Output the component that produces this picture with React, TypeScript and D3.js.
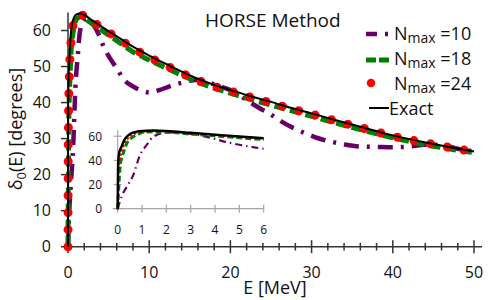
import React, { useEffect, useRef } from "react";
import * as d3 from "d3";

// energies (MeV) and phase shifts (degrees)
const eExact = [0, 0.01, 0.02, 0.05, 0.1, 0.16, 0.25, 0.37, 0.5, 0.78, 1, 1.5, 2, 3, 4, 5, 6, 8, 10, 12, 14, 16, 18, 20, 22, 25, 28, 30, 33, 36, 40, 45, 50];
const dExact = [0, 25, 38, 45, 49, 51.5, 56, 59.6, 61.8, 63.8, 64.4, 64.7, 64.3, 62.8, 61.3, 59.8, 58.4, 55.5, 53, 50.8, 48.6, 46.6, 44.9, 43.5, 42.1, 40.2, 38.2, 37, 35.1, 33.3, 30.9, 28.5, 26.4];

const eN24 = [0, 0.02, 0.05, 0.1, 0.16, 0.25, 0.37, 0.5, 0.78, 1, 1.5, 2, 3, 4, 5, 6, 8, 10, 12, 14, 16, 18, 20, 22, 25, 28, 30, 33, 36, 40, 45, 50];
const dN24 = [0, 20, 33, 42, 47, 53, 57, 59.8, 62.8, 63.8, 64.4, 64.1, 62.5, 61, 59.5, 58.1, 55.1, 52.6, 50.4, 48.2, 46.2, 44.5, 43.2, 41.8, 39.9, 38, 36.8, 34.9, 33.1, 30.7, 28.4, 26.3];

const eN18 = [0, 0.05, 0.1, 0.15, 0.23, 0.35, 0.5, 0.64, 0.92, 1.2, 1.6, 2, 3, 4, 5, 6, 7, 8, 10, 12, 14, 16, 18, 20, 22, 25, 28, 30, 33, 36, 40, 45, 50];
const dN18 = [0, 20, 35, 41, 46, 53, 57.5, 59.6, 62.5, 63.5, 63.8, 63.4, 61.8, 60.3, 58.7, 57.2, 55.6, 54.1, 51.8, 49.7, 47.6, 45.6, 44, 42.6, 41.2, 39.3, 37.4, 36.2, 34.3, 32.5, 30.2, 27.9, 26.1];

const eN10 = [0, 0.16, 0.4, 0.62, 0.92, 1.2, 1.47, 2, 2.5, 3, 3.9, 4.3, 5.2, 6, 6.8, 8, 9.3, 10, 11.3, 12.5, 13.8, 15.8, 17, 19, 20.5, 22, 23.4, 24.9, 26.3, 27.8, 29.2, 30.8, 32.3, 34, 36, 38, 40, 42, 44, 46, 48, 50];
const dN10 = [0, 10, 19, 27, 44.5, 53, 59.7, 63, 63.3, 62, 58.3, 56, 52.2, 49.5, 46.6, 44.5, 43.1, 42.8, 43.5, 44.5, 45.4, 46.3, 45.7, 44.3, 43, 40.7, 38.7, 36.8, 34.7, 32.9, 31.5, 30.1, 29.2, 28.4, 27.8, 27.7, 27.6, 27.8, 28.3, 28.2, 27.2, 26.4];

const xTicks = [0, 10, 20, 30, 40, 50];
const yTicks = [0, 10, 20, 30, 40, 50, 60];
const insetXTicks = [0, 1, 2, 3, 4, 5, 6];
const insetYTicks = [0, 20, 40, 60];
const legendLabels = ["=10", "=18", "=24"];

const FONT = "'Open Sans', 'DejaVu Sans', sans-serif";

const App = () => {
  const ref = useRef<SVGSVGElement>(null);

  useEffect(() => {
    const svg = d3.select(ref.current);
    svg.selectAll("*").remove();

    const x = d3.scaleLinear().domain([0, 50]).range([68, 474]);
    const y = d3.scaleLinear().domain([0, 65]).range([246.7, 12.5]);
    const xi = d3.scaleLinear().domain([0, 6]).range([117.7, 263.7]);
    const yi = d3.scaleLinear().domain([0, 65]).range([208.7, 130.2]);

    const series = [
      { e: eN10, d: dN10, color: "#660066", w: 4.5, dash: "15 8 3 8", cap: "butt", wi: 2.2, dashi: "7 4 1.5 4" },
      { e: eN18, d: dN18, color: "#008000", w: 5, dash: "11 5", cap: "butt", wi: 3, dashi: "6 3" },
      { e: eN24, d: dN24, color: "#ff0000", w: 9, dash: "0 17", cap: "round", wi: 2.5, dashi: "0 4.5" },
      { e: eExact, d: dExact, color: "#000000", w: 2, dash: null, cap: "butt", wi: 2.5, dashi: null },
    ];

    // main axes
    const ax = svg.append("g").attr("stroke", "#333").attr("stroke-width", 1.5);
    ax.append("line").attr("x1", x(0)).attr("x2", x(50) + 8).attr("y1", y(0)).attr("y2", y(0));
    ax.append("line").attr("x1", x(0)).attr("x2", x(0)).attr("y1", y(0)).attr("y2", y(65));
    d3.range(0, 51, 2).forEach(v => {
      const major = v % 10 === 0;
      const h = major ? 6.5 : 3.8;
      ax.append("line").attr("x1", x(v)).attr("x2", x(v)).attr("y1", y(0) - h).attr("y2", y(0) + h);
    });
    yTicks.forEach(v => {
      ax.append("line").attr("x1", x(0) - 7).attr("x2", x(0)).attr("y1", y(v)).attr("y2", y(v));
    });

    const txt = svg.append("g").attr("font-family", FONT).attr("fill", "#111");
    xTicks.forEach(v => {
      txt.append("text").attr("x", x(v)).attr("y", 278).attr("text-anchor", "middle")
        .attr("font-size", 16).text(v);
    });
    yTicks.forEach(v => {
      txt.append("text").attr("x", 51).attr("y", y(v)).attr("dy", "0.36em").attr("text-anchor", "end")
        .attr("font-size", 16).text(v);
    });
    txt.append("text").attr("x", 275).attr("y", 294).attr("text-anchor", "middle")
      .attr("font-size", 18).text("E [MeV]");
    const yl = txt.append("text").attr("transform", "translate(22,129) rotate(-90)")
      .attr("text-anchor", "middle").attr("font-size", 18);
    yl.append("tspan").text("δ");
    yl.append("tspan").attr("font-size", 13).attr("dy", 4).text("0");
    yl.append("tspan").attr("dy", -4).text("(E) [degrees]");

    // inset axes
    const ia = svg.append("g").attr("stroke", "#a6a6a6").attr("stroke-width", 1.2);
    ia.append("line").attr("x1", xi(0) - 5).attr("x2", xi(6)).attr("y1", yi(0)).attr("y2", yi(0));
    ia.append("line").attr("x1", xi(0)).attr("x2", xi(0)).attr("y1", yi(0)).attr("y2", yi(65));
    insetXTicks.forEach(v => {
      ia.append("line").attr("x1", xi(v)).attr("x2", xi(v)).attr("y1", yi(0) - 4).attr("y2", yi(0) + 4);
    });
    insetYTicks.forEach(v => {
      ia.append("line").attr("x1", xi(0) - 4).attr("x2", xi(0) + 4).attr("y1", yi(v)).attr("y2", yi(v));
    });
    insetXTicks.forEach(v => {
      txt.append("text").attr("x", xi(v)).attr("y", 233.5).attr("text-anchor", "middle")
        .attr("font-size", 12).text(v);
    });
    insetYTicks.forEach(v => {
      txt.append("text").attr("x", 102).attr("y", yi(v)).attr("dy", "0.36em").attr("text-anchor", "end")
        .attr("font-size", 12).text(v);
    });

    svg.append("clipPath").attr("id", "insetClip").append("rect")
      .attr("x", xi(0) - 3).attr("y", yi(65) - 5).attr("width", xi(6) - xi(0) + 3).attr("height", yi(0) - yi(65) + 8);

    // curves
    series.forEach(s => {
      const pts = s.e.map((e, i) => [e, s.d[i]] as [number, number]);
      const main = d3.line().x(p => x(p[0])).y(p => y(p[1])).curve(d3.curveMonotoneX);
      svg.append("path").attr("d", main(pts)).attr("fill", "none")
        .attr("stroke", s.color).attr("stroke-width", s.w)
        .attr("stroke-dasharray", s.dash).attr("stroke-linecap", s.cap);
      const ins = d3.line().x(p => xi(p[0])).y(p => yi(p[1])).curve(d3.curveMonotoneX);
      svg.append("path").attr("d", ins(pts.filter(p => p[0] <= 8))).attr("fill", "none")
        .attr("clip-path", "url(#insetClip)")
        .attr("stroke", s.color).attr("stroke-width", s.wi)
        .attr("stroke-dasharray", s.dashi).attr("stroke-linecap", s.cap);
    });

    // title and legend
    txt.append("text").attr("x", 205).attr("y", 27).attr("font-size", 19).text("HORSE Method");
    const rows = [40, 65, 90];
    legendLabels.forEach((lab, i) => {
      const t = txt.append("text").attr("x", 394).attr("y", rows[i]).attr("font-size", 18);
      t.append("tspan").text("N");
      t.append("tspan").attr("font-size", 14).attr("dy", 3).text("max");
      t.append("tspan").attr("dy", -3).text(" " + lab);
    });
    const lg = svg.append("g").attr("fill", "none");
    lg.append("line").attr("x1", 366).attr("x2", 388).attr("y1", 34).attr("y2", 34)
      .attr("stroke", "#660066").attr("stroke-width", 4.5).attr("stroke-dasharray", "11 8 3 20");
    lg.append("line").attr("x1", 366).attr("x2", 389).attr("y1", 60).attr("y2", 60)
      .attr("stroke", "#008000").attr("stroke-width", 5).attr("stroke-dasharray", "10 3");
    lg.append("line").attr("x1", 371).attr("x2", 386).attr("y1", 83).attr("y2", 83)
      .attr("stroke", "#ff0000").attr("stroke-width", 8.5).attr("stroke-linecap", "round").attr("stroke-dasharray", "0 15");
    lg.append("line").attr("x1", 369).attr("x2", 389).attr("y1", 108).attr("y2", 108)
      .attr("stroke", "#000").attr("stroke-width", 2);
    txt.append("text").attr("x", 389).attr("y", 115).attr("font-size", 18).text("Exact");
  }, []);

  return <svg ref={ref} width={498} height={300} style={{ position: "absolute", left: 0, top: 0 }} />;
};

export default App;
